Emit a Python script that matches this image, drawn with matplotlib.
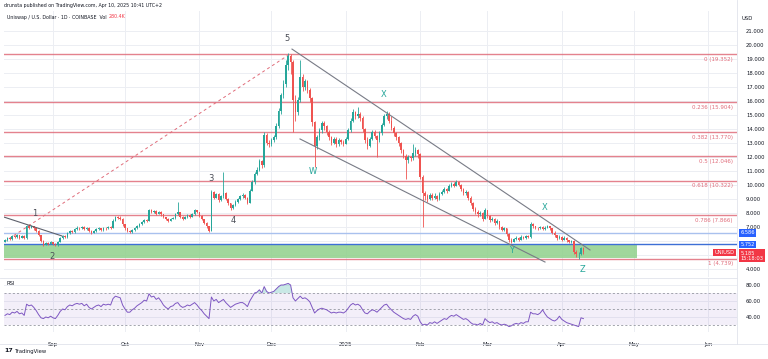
import numpy as np
import pandas as pd
import matplotlib
matplotlib.use('Agg')
import matplotlib.pyplot as plt
import matplotlib.dates as mdates
from matplotlib.lines import Line2D
from matplotlib.ticker import FuncFormatter, FormatStrFormatter

plt.rcParams['font.family'] = ['DejaVu Sans']

# daily UNI/USD candles, Aug 12 2024 -> Apr 10 2025
start = '2024-08-12'
first_open = 5.95
closes = [6.05, 6.25, 6.15, 6.35, 6.30, 6.40, 6.25, 6.35, 6.20, 7.05,
          6.95, 7.05, 6.90, 6.75, 6.40, 6.00, 5.75, 5.85, 5.80, 5.90,
          5.78, 5.72, 5.95, 6.20, 6.35, 6.30, 6.55, 6.70, 6.65, 6.85,
          6.95, 6.90, 7.00, 6.85, 6.95, 6.75, 6.60, 6.70, 6.85, 6.90,
          6.80, 6.95, 6.90, 7.00, 6.95, 7.45, 7.70, 7.65, 7.60, 7.20,
          6.90, 6.70, 6.65, 6.80, 6.90, 7.05, 7.20, 7.35, 7.50, 7.45,
          8.20, 8.05, 8.15, 7.95, 8.10, 7.90, 7.70, 7.55, 7.45, 7.60,
          7.65, 7.90, 8.05, 7.75, 7.60, 7.70, 7.85, 7.75, 7.90, 8.20,
          8.05, 7.80, 7.55, 7.30, 7.05, 6.75, 9.50, 9.10, 9.35, 8.90,
          9.20, 9.40, 9.00, 8.70, 8.35, 8.55, 8.80, 9.00, 9.20, 9.30,
          9.10, 8.75, 9.60, 10.20, 10.80, 11.10, 11.70, 11.40, 13.60, 13.00,
          12.90, 13.20, 13.40, 14.20, 15.30, 16.40, 17.20, 18.60, 19.20, 18.80,
          16.10, 15.20, 16.10, 17.70, 17.00, 17.40, 16.80, 16.20, 14.50, 12.80,
          13.40, 13.90, 14.40, 14.20, 13.80, 13.40, 13.00, 13.30, 12.90, 13.20,
          13.10, 12.95, 13.30, 13.90, 14.60, 15.20, 14.90, 15.10, 14.80, 14.00,
          13.20, 12.80, 13.30, 13.80, 13.50, 13.20, 13.70, 14.30, 14.90, 15.10,
          14.60, 14.10, 13.70, 13.40, 13.00, 12.50, 12.10, 11.80, 12.00, 11.90,
          12.30, 12.50, 12.20, 10.60, 9.40, 9.20, 9.00, 9.30, 9.10, 9.25,
          9.00, 9.35, 9.50, 9.70, 9.60, 9.90, 10.10, 9.95, 10.20, 10.00,
          9.70, 9.40, 9.50, 9.10, 8.70, 8.30, 8.10, 7.90, 8.00, 7.60,
          8.20, 7.80, 7.50, 7.60, 7.30, 7.40, 7.00, 6.80, 6.90, 6.50,
          6.10, 5.95, 6.15, 6.25, 6.10, 6.30, 6.20, 6.35, 6.30, 7.25,
          7.05, 6.95, 6.90, 7.00, 6.85, 6.95, 7.05, 6.90, 6.60, 6.40,
          6.20, 6.30, 6.10, 6.25, 6.05, 5.95, 6.00, 5.25, 5.05, 5.10,
          5.50, 5.19]
highs = [6.15, 6.32, 6.30, 6.42, 6.45, 6.48, 6.45, 6.40, 6.40, 7.15,
         7.20, 7.12, 7.10, 6.98, 6.80, 6.45, 6.05, 5.92, 5.95, 5.98,
         5.95, 5.85, 6.02, 6.28, 6.42, 6.45, 6.62, 6.80, 6.78, 6.92,
         7.05, 7.02, 7.10, 7.05, 7.02, 7.00, 6.80, 6.78, 6.92, 6.98,
         6.95, 7.02, 7.00, 7.08, 7.05, 7.55, 7.82, 7.80, 7.78, 7.65,
         7.25, 6.95, 6.78, 6.88, 6.98, 7.12, 7.28, 7.45, 7.60, 7.58,
         8.30, 8.28, 8.25, 8.20, 8.18, 8.15, 7.95, 7.75, 7.62, 7.68,
         7.72, 8.00, 8.80, 8.10, 7.80, 7.78, 7.92, 7.90, 7.98, 8.28,
         8.25, 8.10, 7.85, 7.60, 7.35, 7.10, 9.65, 9.60, 9.45, 9.40,
         9.30, 10.90, 9.50, 9.05, 8.75, 8.65, 8.90, 9.10, 9.30, 9.45,
         9.35, 9.15, 9.70, 10.35, 10.95, 11.30, 11.85, 11.80, 13.80, 13.70,
         13.20, 13.35, 13.55, 14.40, 15.50, 16.60, 17.50, 18.90, 19.45, 19.35,
         18.90, 16.40, 16.30, 18.90, 17.90, 17.60, 17.50, 16.90, 16.30, 14.60,
         13.60, 14.10, 14.60, 14.55, 14.30, 13.90, 13.50, 13.45, 13.40, 13.35,
         13.30, 13.20, 13.45, 14.05, 14.80, 15.40, 15.30, 15.60, 15.25, 14.90,
         14.10, 13.40, 13.45, 13.95, 13.90, 13.60, 13.85, 14.45, 15.10, 15.30,
         15.20, 14.90, 14.20, 13.80, 13.50, 13.10, 12.60, 12.20, 12.15, 12.10,
         12.90, 12.70, 12.60, 12.30, 10.70, 9.60, 9.35, 9.45, 9.40, 9.40,
         9.30, 9.50, 9.65, 9.85, 9.80, 10.05, 10.25, 10.20, 10.35, 10.30,
         10.10, 9.80, 9.65, 9.55, 9.20, 8.80, 8.40, 8.20, 8.15, 8.05,
         8.35, 8.25, 7.85, 7.75, 7.65, 7.55, 7.45, 7.10, 7.00, 6.95,
         6.55, 6.20, 6.25, 6.35, 6.30, 6.40, 6.35, 6.45, 6.42, 7.35,
         7.30, 7.10, 7.02, 7.10, 7.05, 7.05, 7.15, 7.10, 6.95, 6.70,
         6.45, 6.40, 6.35, 6.35, 6.30, 6.10, 6.08, 6.05, 5.35, 5.25,
         5.60, 5.55]
lows = [5.90, 6.00, 6.08, 6.10, 6.22, 6.25, 6.18, 6.20, 6.12, 6.15,
        6.88, 6.90, 6.82, 6.68, 6.35, 5.92, 5.68, 5.70, 5.74, 5.76,
        5.70, 5.62, 5.68, 5.90, 6.15, 6.22, 6.25, 6.50, 6.58, 6.60,
        6.80, 6.82, 6.85, 6.78, 6.80, 6.68, 6.52, 6.55, 6.65, 6.80,
        6.72, 6.75, 6.82, 6.85, 6.88, 6.90, 7.40, 7.55, 7.50, 7.10,
        6.82, 6.62, 6.55, 6.60, 6.75, 6.85, 7.00, 7.15, 7.30, 7.38,
        7.40, 7.98, 8.00, 7.88, 7.90, 7.82, 7.62, 7.48, 7.38, 7.40,
        7.55, 7.60, 7.85, 7.68, 7.52, 7.55, 7.65, 7.68, 7.70, 7.85,
        7.98, 7.72, 7.48, 7.22, 6.95, 6.65, 6.70, 9.00, 9.05, 8.80,
        8.85, 9.10, 8.90, 8.60, 8.20, 8.30, 8.50, 8.75, 8.95, 9.10,
        9.00, 8.62, 8.70, 9.55, 10.10, 10.70, 11.00, 11.20, 11.30, 12.85,
        12.75, 12.80, 13.05, 13.30, 14.10, 15.10, 16.20, 17.00, 18.20, 17.90,
        13.80, 14.60, 15.00, 15.90, 16.70, 16.80, 16.60, 15.90, 14.20, 11.30,
        12.60, 13.20, 13.70, 13.90, 13.60, 13.20, 12.85, 12.90, 12.75, 12.80,
        12.95, 12.80, 12.90, 13.20, 13.80, 14.50, 14.70, 14.80, 14.60, 13.80,
        13.00, 12.60, 12.70, 13.20, 13.35, 12.00, 13.10, 13.60, 14.20, 14.70,
        14.40, 13.90, 13.50, 13.20, 12.80, 12.30, 11.90, 10.40, 11.60, 11.70,
        11.80, 12.10, 11.90, 10.40, 7.00, 8.90, 8.80, 8.90, 8.95, 9.00,
        8.85, 8.95, 9.30, 9.40, 9.45, 9.55, 9.85, 9.85, 9.90, 9.90,
        9.60, 9.30, 9.30, 8.95, 8.55, 8.15, 7.95, 7.75, 7.80, 7.45,
        7.55, 7.65, 7.35, 7.40, 7.15, 7.20, 6.85, 6.70, 6.70, 6.35,
        5.95, 5.85, 5.90, 6.10, 6.00, 6.05, 6.12, 6.15, 6.22, 6.25,
        6.95, 6.85, 6.80, 6.85, 6.78, 6.80, 6.90, 6.82, 6.50, 6.32,
        6.10, 6.15, 6.00, 6.05, 5.95, 5.85, 5.88, 5.10, 4.85, 4.75,
        5.00, 5.10]
rsi = [42, 44, 43, 46, 45, 47, 44, 45, 42, 56,
       54, 55, 52, 48, 43, 39, 38, 40, 39, 41,
       39, 38, 42, 47, 50, 49, 53, 55, 54, 56,
       57, 56, 57, 54, 56, 52, 50, 52, 54, 55,
       53, 56, 55, 56, 55, 63, 66, 65, 64, 55,
       50, 46, 46, 49, 51, 54, 56, 58, 61, 60,
       69, 65, 66, 62, 64, 60, 55, 52, 50, 53,
       54, 57, 58, 54, 52, 53, 55, 54, 56, 58,
       55, 51, 48, 44, 41, 38, 65, 60, 62, 58,
       60, 62, 58, 55, 52, 54, 56, 57, 58, 58,
       56, 53, 60, 65, 70, 71, 74, 70, 78, 72,
       70, 71, 72, 75, 78, 80, 80, 81, 82, 80,
       64, 60, 63, 66, 63, 64, 62, 59, 52, 45,
       48, 50, 51, 50, 49, 47, 45, 46, 45, 46,
       46, 45, 47, 51, 55, 57, 55, 56, 54, 49,
       45, 44, 47, 49, 48, 46, 49, 52, 55, 56,
       52, 49, 46, 44, 42, 40, 38, 37, 38, 37,
       41, 43, 41, 34, 30, 31, 30, 33, 32, 34,
       32, 34, 36, 38, 37, 40, 42, 41, 43, 41,
       39, 37, 38, 36, 33, 31, 31, 30, 32, 30,
       38, 35, 33, 34, 32, 33, 31, 30, 31, 30,
       28, 29, 31, 32, 31, 33, 32, 34, 34, 46,
       44, 44, 43, 45, 49, 44, 40, 38, 36, 35,
       37, 41, 37, 35, 33, 32, 31, 30, 29, 28,
       39, 38]

fib_levels = ['0', '0.236', '0.382', '0.5', '0.618', '0.786', '1']
fib_prices = [19.352, 15.904, 13.770, 12.046, 10.322, 7.866, 4.739]

price_ticks = [4, 5, 6, 7, 8, 9, 10, 11, 12, 13, 14, 15, 16, 17, 18, 19, 20, 21]
hidden_ticks = [5, 6]  # covered by the price tags
rsi_ticks = [40, 60, 80]
month_starts = ['2024-09-01', '2024-10-01', '2024-11-01', '2024-12-01', '2025-01-01',
                '2025-02-01', '2025-03-01', '2025-04-01', '2025-05-01', '2025-06-01']
month_labels = ['Sep', 'Oct', 'Nov', 'Dec', '2025', 'Feb', 'Mar', 'Apr', 'May', 'Jun']

resistance = 6.586
support_top = 5.752
zone_bottom = 4.80
zone_end = '2025-05-02 07:00'
last_price = 5.185

# drawings on the chart (date, price pairs)
left_line_dates = ['2024-08-11 14:00', '2024-09-04 18:00']
left_line_prices = [7.71, 6.36]
fib_line_dates = ['2024-08-11 14:00', '2024-12-08 18:00']
fib_line_prices = [5.93, 19.36]
upper_dates = ['2024-12-09 14:00', '2025-04-12 18:00']
upper_prices = [19.71, 5.36]
lower_dates = ['2024-12-12 22:00', '2025-03-25 00:00']
lower_prices = [13.29, 4.50]

wave_text = ['1', '2', '3', '4', '5', 'W', 'X', 'Y', 'X', 'Z']
wave_dates = ['2024-08-24 12:00', '2024-08-31 14:00', '2024-11-05 19:00', '2024-11-15 00:00',
              '2024-12-07 12:00', '2024-12-18 07:00', '2025-01-16 22:00', '2025-03-11 06:00',
              '2025-03-25 00:00', '2025-04-09 10:00']
wave_prices = [8.0, 4.86, 10.5, 7.5, 20.5, 10.93, 16.5, 5.29, 8.36, 3.93]

UP = '#26a69a'
DOWN = '#ef5350'
FIB = '#e06c7a'
TXT = '#131722'
GRID = '#eceef3'
FS = 3.8


def dnum(values):
    return mdates.date2num(pd.to_datetime(values))


W, H = 768, 359
fig = plt.figure(figsize=(W / 100, H / 100), dpi=100)
ax = fig.add_axes([4 / W, (H - 277) / H, 733 / W, 266 / H])
ax_rsi = fig.add_axes([4 / W, (H - 332) / H, 733 / W, 54 / H], sharex=ax)

dates = pd.date_range(start, periods=len(closes), freq='D')
x = mdates.date2num(dates)
c = np.array(closes)
o = np.r_[first_open, c[:-1]]  # crypto trades 24/7: each day opens at the prior close
colors = np.where(c >= o, UP, DOWN)

# grid
for a in (ax, ax_rsi):
    a.set_xticks(dnum(month_starts))
    a.grid(True, color=GRID, lw=0.7)
    a.set_axisbelow(True)
    for s in a.spines.values():
        s.set_visible(False)

# fib levels
for lvl, p in zip(fib_levels, fib_prices):
    ax.axhline(p, color=FIB, lw=1.0, alpha=0.85, zorder=1)
    ax.annotate('%s (%.3f)' % (lvl, p), xy=(1, p), xycoords=('axes fraction', 'data'),
                xytext=(-3, -2), textcoords='offset points', ha='right', va='top',
                fontsize=4.0, color=FIB)

# support zone and horizontal levels
ax.fill_between([dnum(start) - 5, dnum(zone_end)], zone_bottom, support_top,
                color='#8fd18b', alpha=0.85, lw=0, zorder=1)
ax.axhline(support_top, color='#3d6fd6', lw=1.0, zorder=1.5)
ax.axhline(resistance, color='#a9c1ee', lw=1.0, zorder=1.5)

# candles
ax.vlines(x, lows, highs, color=colors, lw=0.6, zorder=3)
ax.bar(x, np.maximum(np.abs(c - o), 0.04), bottom=np.minimum(o, c), width=0.62,
       color=colors, lw=0, zorder=3)

# drawings
ax.plot(dnum(left_line_dates), left_line_prices, color='#5d606b', lw=0.8, zorder=4)
ax.plot(dnum(fib_line_dates), fib_line_prices, color=FIB, lw=0.7, ls=(0, (3, 3)), zorder=2)
ax.plot(dnum(upper_dates), upper_prices, color='#787b86', lw=0.8, zorder=4)
ax.plot(dnum(lower_dates), lower_prices, color='#787b86', lw=0.8, zorder=4)
for t, d, p in zip(wave_text, wave_dates, wave_prices):
    col = '#4a4d57' if t.isdigit() else '#26a69a'
    ax.text(dnum(d), p, t, ha='center', va='center', fontsize=6, color=col, zorder=5)

ax.set_xlim(dnum('2024-08-11 14:00'), dnum('2025-06-13 00:00'))
ax.set_ylim(3.43, 22.43)
ax.set_yticks(price_ticks)
ax.yaxis.set_major_formatter(FuncFormatter(lambda v, pos: '' if round(v) in hidden_ticks else '%.3f' % v))
ax.tick_params(axis='y', left=False, right=False, labelleft=False, labelright=True,
               labelsize=FS, labelcolor=TXT, pad=3)
ax.tick_params(axis='x', bottom=False, labelbottom=False)

# price tags on the right scale
tag = dict(xycoords=('axes fraction', 'data'), textcoords='offset points',
           va='center', fontsize=3.7, color='white', annotation_clip=False)
ax.annotate('%.3f' % resistance, xy=(1, resistance), xytext=(2.5, 0), ha='left',
            bbox=dict(boxstyle='square,pad=0.25', fc='#2962ff', ec='none'), **tag)
ax.annotate('%.3f' % support_top, xy=(1, support_top), xytext=(2.5, 0), ha='left',
            bbox=dict(boxstyle='square,pad=0.25', fc='#2962ff', ec='none'), **tag)
ax.annotate('%.3f\n15:18:03' % last_price, xy=(1, last_price), xytext=(2.5, -2.5), ha='left',
            linespacing=1.1, bbox=dict(boxstyle='square,pad=0.25', fc='#f23645', ec='none'), **tag)
ax.annotate('UNIUSD', xy=(1, last_price), xytext=(-2, 0), ha='right',
            bbox=dict(boxstyle='square,pad=0.25', fc='#f23645', ec='none'), **tag)

# RSI pane
ax_rsi.axhspan(30, 70, color='#7e57c2', alpha=0.09, lw=0)
for lv in (70, 50, 30):
    ax_rsi.axhline(lv, color='#9598a1', lw=0.6, ls=(0, (2.5, 2.5)))
r = np.array(rsi, dtype=float)
ax_rsi.fill_between(x, r, 70, where=r > 70, interpolate=True, color='#26a69a', alpha=0.25, lw=0)
ax_rsi.plot(x, r, color='#7e57c2', lw=0.7)
ax_rsi.set_ylim(21.25, 88.75)
ax_rsi.set_yticks(rsi_ticks)
ax_rsi.yaxis.set_major_formatter(FormatStrFormatter('%.2f'))
ax_rsi.tick_params(axis='y', left=False, right=False, labelleft=False, labelright=True,
                   labelsize=FS, labelcolor=TXT, pad=3)
ax_rsi.set_xticklabels(month_labels)
ax_rsi.tick_params(axis='x', bottom=False, labelsize=FS, labelcolor=TXT, pad=4)
ax_rsi.text(0.004, 0.9, 'RSI', transform=ax_rsi.transAxes, fontsize=FS, color=TXT, va='center')

# frame lines and header
for y0, y1, x0, x1 in [(278, 278, 0, 737), (344, 344, 0, 768), (0, 344, 737, 737)]:
    fig.add_artist(Line2D([x0 / W, x1 / W], [1 - y0 / H, 1 - y1 / H], color='#e0e3eb', lw=0.6))
fig.text(4 / W, 1 - 5 / H, 'drunsta published on TradingView.com, Apr 10, 2025 10:41 UTC+2',
         fontsize=3.4, color=TXT, va='center')
hdr = fig.text(7 / W, 1 - 17 / H, 'Uniswap / U.S. Dollar · 1D · COINBASE  Vol',
               fontsize=3.4, color=TXT, va='center')
ax.annotate('280.4K', xy=(1, 0.5), xycoords=hdr, xytext=(1.5, 0), textcoords='offset points',
            fontsize=3.4, color='#f23645', va='center', annotation_clip=False)
fig.text(741 / W, 1 - 19 / H, 'USD', fontsize=FS, color=TXT, va='center')
fig.text(4 / W, 1 - 351 / H, '17', fontsize=4.5, weight='bold', color=TXT, va='center')
fig.text(15 / W, 1 - 351 / H, 'TradingView', fontsize=FS, color=TXT, va='center')

fig.savefig('out.png', dpi=100, facecolor='white')
